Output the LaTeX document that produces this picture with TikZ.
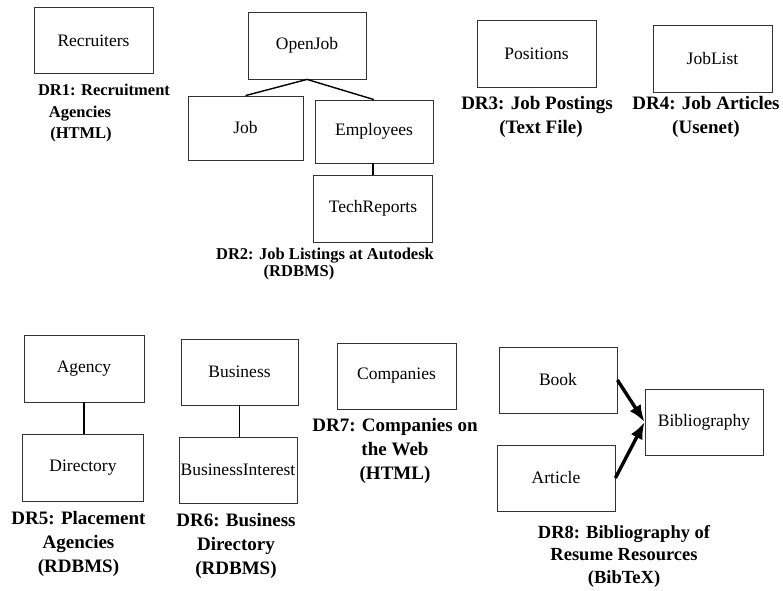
\documentclass[tikz,border=0pt]{standalone}
\usepackage{fontspec}
\setmainfont{Liberation Serif}
\usetikzlibrary{arrows.meta}

\tikzset{
  relbox/.style={draw=black!80, line width=0.8pt, minimum width=119pt,
    minimum height=66pt, inner sep=0pt,
    font=\fontsize{17.5}{20}\selectfont},
  srclabel/.style={anchor=north, align=center, inner sep=0pt,
    font=\bfseries\fontsize{19}{24}\selectfont},
  smalllabel/.style={anchor=north, align=center, inner sep=0pt,
    font=\bfseries\fontsize{16.5}{21.5}\selectfont},
  link/.style={line width=1.4pt},
  inherit/.style={line width=3.4pt, -{Latex[length=17pt,width=13pt]}}
}

\begin{document}
\begin{tikzpicture}[x=1pt,y=-1pt]
\useasboundingbox (0,0) rectangle (783,590);

% ---- DR1 ----
\node[relbox] (recruiters) at (93.5,40.5) {Recruiters};
\node[smalllabel] (dr1) at (104,84) {DR1: Recruitment\\\hspace*{-48pt}Agencies\\\hspace*{-46pt}(HTML)};

% ---- DR2 ----
\node[relbox, minimum width=118pt, minimum height=67pt] (openjob) at (307,45.5) {OpenJob};
\node[relbox, minimum width=115pt, minimum height=64pt] (job) at (245.5,128) {Job};
\node[relbox, minimum width=118pt, minimum height=63pt] (employees) at (374,131.5) {Employees};
\node[relbox, minimum height=67pt] (techreports) at (373,208.5) {TechReports};
\draw[link] (openjob.south) -- (job.north);
\draw[link] (openjob.south) -- (employees.north);
\draw[link] (employees.south -| techreports.north) -- (techreports.north);
\node[smalllabel, font=\bfseries\fontsize{16.5}{17}\selectfont] (dr2) at (325,248)
  {DR2: Job Listings at Autodesk\\\hspace*{-52pt}(RDBMS)};

% ---- DR3 ----
\node[relbox, minimum height=67pt] (positions) at (536.5,53.5) {Positions};
\node[srclabel] (dr3) at (537,96) {DR3: Job Postings\\\hspace*{8pt}(Text File)};

% ---- DR4 ----
\node[relbox, minimum height=67pt] (joblist) at (712.5,58.5) {JobList};
\node[srclabel] (dr4) at (706,96) {DR4: Job Articles\\(Usenet)};

% ---- DR5 ----
\node[relbox, minimum width=120pt, minimum height=67pt] (agency) at (84,368.5) {Agency};
\node[relbox, minimum width=121pt, minimum height=67pt] (directory) at (83,467.5) {Directory};
\draw[link] (agency.south) -- (agency.south |- directory.north);
\node[srclabel] (dr5) at (78.5,511) {DR5: Placement\\Agencies\\(RDBMS)};

% ---- DR6 ----
\node[relbox, minimum width=117pt] (business) at (239.5,372) {Business};
\node[relbox, minimum width=118pt] (businessinterest) at (238,470) {BusinessInterest};
\draw[link] (business.south) -- (business.south |- businessinterest.north);
\node[srclabel] (dr6) at (236,513) {DR6: Business\\Directory\\(RDBMS)};

% ---- DR7 ----
\node[relbox] (companies) at (396.5,376) {Companies};
\node[srclabel] (dr7) at (395,418) {DR7: Companies on\\the Web\\(HTML)};

% ---- DR8 ----
\node[relbox, minimum width=118pt] (book) at (558,380) {Book};
\node[relbox, minimum width=118pt] (article) at (556,478) {Article};
\node[relbox, minimum width=118pt] (bibliography) at (704,422) {Bibliography};
\draw[inherit] (book.east) -- (bibliography.west);
\draw[inherit] (article.east) -- (bibliography.west);
\node[srclabel, font=\bfseries\fontsize{18.5}{22.5}\selectfont] (dr8) at (624,525)
  {DR8: Bibliography of\\Resume Resources\\(BibTeX)};
\end{tikzpicture}
\end{document}
